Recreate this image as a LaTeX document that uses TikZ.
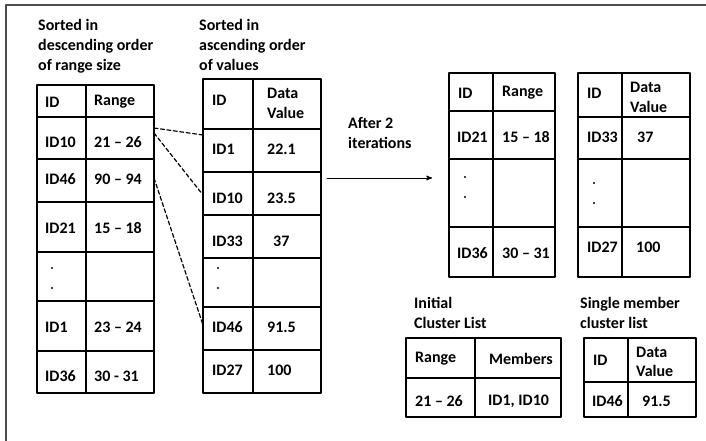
\documentclass[tikz,border=0pt]{standalone}
\usepackage{fontspec}
\setmainfont{Carlito}
\usepackage{tikz}
\usetikzlibrary{calc}
\usetikzlibrary{arrows}
\definecolor{frmgray}{rgb}{0.3,0.3,0.3}
\tikzset{
  tbl/.style={line width=1.3pt,color=black},
  cell/.style={anchor=west,inner sep=0pt,font=\fontsize{16}{20}\selectfont\bfseries},
  ttl/.style={anchor=north west,inner sep=0pt,align=left,font=\fontsize{16}{20}\selectfont\bfseries},
  dot/.style={circle,fill=black,inner sep=0pt,minimum size=2.2pt},
  lnk/.style={line width=1.2pt,dash pattern=on 4pt off 2.5pt}
}

\begin{document}
\begin{tikzpicture}[line cap=round,line join=round,>=stealth',x=1pt,y=-1pt]
    \useasboundingbox (0,0) rectangle (706,441);
    % outer frame
    \draw [line width=1.6pt,color=frmgray] (6,445) -- (6,5) -- (710,5);
    % titles
    \node[ttl] (ttldesc) at (38,19) {Sorted in\\descending order\\of range size};
    \node[ttl] (ttlasc) at (199,19) {Sorted in\\ascending order\\of values};
    \node[ttl] (ttlinit) at (414,297) {Initial\\Cluster List};
    \node[ttl] (ttlsingle) at (580,297) {Single member\\cluster list};
    % table 1
    \draw [tbl] (37,85) rectangle (154,393);
    \draw [tbl] (86,85) -- (86,393);
    \foreach \y in {117,159,202,252,301,351}
        \draw [tbl] (37,\y) -- (154,\y);
    \node[cell] (a0) at (45,102) {ID};
    \node[cell] (b0) at (94,102) {Range};
    \node[cell] (a1) at (45,142) {ID10};
    \node[cell] (b1) at (94,142) {21 -- 26};
    \node[cell] (a2) at (45,179) {ID46};
    \node[cell] (b2) at (94,179) {90 -- 94};
    \node[cell] (a3) at (45,228) {ID21};
    \node[cell] (b3) at (94,228) {15 -- 18};
    \node[dot] (a4u) at (52,268) {};
    \node[dot] (a4l) at (52,288) {};
    \node[cell] (a5) at (45,327) {ID1};
    \node[cell] (b5) at (94,327) {23 -- 24};
    \node[cell] (a6) at (45,376) {ID36};
    \node[cell] (b6) at (94,376) {30 - 31};
    % table 2
    \draw [tbl] (203,79) rectangle (321,393);
    \draw [tbl] (253,79) -- (253,393);
    \foreach \y in {129,172,215,258,307,350}
        \draw [tbl] (203,\y) -- (321,\y);
    \node[cell] (c0) at (212,100) {ID};
    \node[cell] (d0a) at (267,93) {Data};
    \node[cell] (d0b) at (267,113) {Value};
    \node[cell] (c1) at (212,149) {ID1};
    \node[cell] (d1) at (267,149) {22.1};
    \node[cell] (c2) at (212,198) {ID10};
    \node[cell] (d2) at (267,198) {23.5};
    \node[cell] (c3) at (212,241) {ID33};
    \node[cell] (d3) at (273,241) {37};
    \node[dot] (c4u) at (218,268) {};
    \node[dot] (c4l) at (218,288) {};
    \node[cell] (c5) at (212,327) {ID46};
    \node[cell] (d5) at (267,327) {91.5};
    \node[cell] (c6) at (212,370) {ID27};
    \node[cell] (d6) at (267,370) {100};
    % dashed links
    \coordinate (l10) at (154,128);
    \coordinate (l10b) at (154,133);
    \coordinate (l46) at (154,178);
    \coordinate (v1) at (203,135);
    \coordinate (v10) at (203,195);
    \coordinate (v46) at (203,325);
    \draw [lnk] (l10) -- (v1);
    \draw [lnk] (l10b) -- (v10);
    \draw [lnk] (l46) -- (v46);
    % iterations arrow
    \node[ttl] (iter) at (348,117) {After 2\\iterations};
    \coordinate (arrs) at (327,178);
    \coordinate (arre) at (432,178);
    \draw [line width=1pt,->] (arrs) -- (arre);
    % table 3
    \draw [tbl] (449,73) rectangle (555,277);
    \draw [tbl] (493,73) -- (493,277);
    \foreach \y in {111,159,227}
        \draw [tbl] (449,\y) -- (555,\y);
    \node[cell] (e0) at (458,93) {ID};
    \node[cell] (f0) at (502,93) {Range};
    \node[cell] (e1) at (457,137) {ID21};
    \node[cell] (f1) at (502,137) {15 -- 18};
    \node[dot] (e2u) at (465,177) {};
    \node[dot] (e2l) at (465,197) {};
    \node[cell] (e3) at (457,253) {ID36};
    \node[cell] (f3) at (502,253) {30 -- 31};
    % table 4
    \draw [tbl] (578,73) rectangle (690,277);
    \draw [tbl] (622,73) -- (622,277);
    \foreach \y in {117,159,227}
        \draw [tbl] (578,\y) -- (690,\y);
    \node[cell] (g0) at (587,93) {ID};
    \node[cell] (h0a) at (630,87) {Data};
    \node[cell] (h0b) at (630,107) {Value};
    \node[cell] (g1) at (587,137) {ID33};
    \node[cell] (h1) at (637,137) {37};
    \node[dot] (g2u) at (594,183) {};
    \node[dot] (g2l) at (594,203) {};
    \node[cell] (g3) at (587,247) {ID27};
    \node[cell] (h3) at (636,247) {100};
    % table 5
    \draw [tbl] (406,338) rectangle (561,417);
    \draw [tbl] (475,338) -- (475,417);
    \draw [tbl] (406,378) -- (561,378);
    \node[cell] (i0) at (415,359) {Range};
    \node[cell] (j0) at (489,359) {Members};
    \node[cell] (i1) at (415,401) {21 -- 26};
    \node[cell] (j1) at (488,401) {ID1, ID10};
    % table 6
    \draw [tbl] (584,338) rectangle (696,417);
    \draw [tbl] (628,338) -- (628,417);
    \draw [tbl] (584,382) -- (696,382);
    \node[cell] (k0) at (593,360) {ID};
    \node[cell] (m0a) at (636,352) {Data};
    \node[cell] (m0b) at (636,371) {Value};
    \node[cell] (k1) at (592,401) {ID46};
    \node[cell] (m1) at (642,401) {91.5};
\end{tikzpicture}
\end{document}
